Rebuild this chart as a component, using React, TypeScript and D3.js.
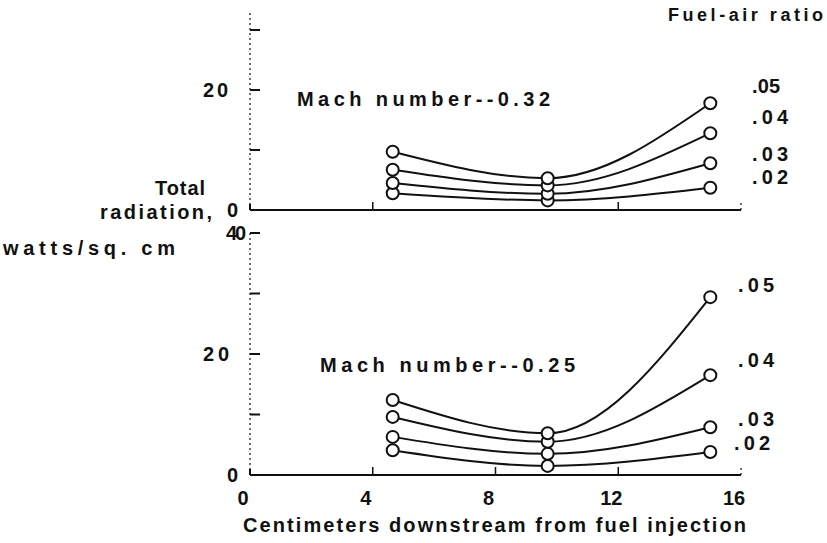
import * as d3 from 'd3';
import * as React from 'react';

// distance from fuel injection, cm
const stations = [4.65, 9.7, 15];
const ratioLabels = ['.02', '.03', '.04', '.05'];

// Mach number 0.32, total radiation (watts/sq. cm)
const m032r02 = [2.8, 1.6, 3.7];
const m032r03 = [4.5, 2.7, 7.8];
const m032r04 = [6.7, 4.1, 12.8];
const m032r05 = [9.7, 5.3, 17.8];

// Mach number 0.25
const m025r02 = [4.1, 1.5, 3.8];
const m025r03 = [6.3, 3.5, 7.9];
const m025r04 = [9.6, 5.5, 16.5];
const m025r05 = [12.4, 6.9, 29.4];

const xTicks = [0, 4, 8, 12, 16];
const topYTicks = [0, 10, 20, 30];
const botYTicks = [0, 10, 20, 30, 40];

const font = '"Liberation Sans", Arial, sans-serif';
const ink = '#111';

const x = d3.scaleLinear().domain([0, 16]).range([250, 741]);
const yTop = d3.scaleLinear().domain([0, 30]).range([210, 30]);
const yBot = d3.scaleLinear().domain([0, 40]).range([475, 233]);

const line = (y: d3.ScaleLinear<number, number>) =>
    d3.line<number>()
        .x((_, i) => x(stations[i]))
        .y(v => y(v))
        .curve(d3.curveMonotoneX);

/**
 * Letter-spaced label, stretched to the width measured on the scan
 */
const Label = (p: { x: number; y: number; w?: number; size?: number; anchor?: string; children: string }) => (
    <text
        x={p.x}
        y={p.y}
        fontFamily={font}
        fontWeight="bold"
        fontSize={p.size || 20}
        fill={ink}
        textAnchor={p.anchor || 'start'}
        textLength={p.w}
        lengthAdjust={p.w ? 'spacing' : undefined}
    >
        {p.children}
    </text>
);

interface PanelProps {
    y: d3.ScaleLinear<number, number>;
    series: number[][];
    yTicks: number[];
    xTickMarks: number[];
    yMax: number;
}

const Panel = ({ y, series, yTicks, xTickMarks, yMax }: PanelProps) => {
    const path = line(y);
    const y0 = y(0);
    return (
        <g>
            {/* y axis, dotted as on the scan */}
            <line x1={x(0)} x2={x(0)} y1={y0} y2={y(yMax)} stroke={ink} strokeWidth={1.2} strokeDasharray="2,3" />
            {yTicks.filter(t => t > 0).map(t => (
                <line key={t} x1={x(0)} x2={x(0) + 10} y1={y(t)} y2={y(t)} stroke={ink} strokeWidth={2} />
            ))}
            {/* x axis */}
            <line x1={x(0)} x2={x(16)} y1={y0} y2={y0} stroke={ink} strokeWidth={2} />
            <line x1={x(0)} x2={x(0)} y1={y0} y2={y0 - 6} stroke={ink} strokeWidth={2} />
            {xTickMarks.map(t => (
                <line key={t} x1={x(t)} x2={x(t)} y1={y0} y2={y0 - 8} stroke={ink} strokeWidth={1.5} />
            ))}
            <line x1={x(16)} x2={x(16)} y1={y0} y2={y0 - 9} stroke={ink} strokeWidth={1.2} strokeDasharray="2,3" />
            {series.map((s, i) => (
                <path key={i} d={path(s) || ''} fill="none" stroke={ink} strokeWidth={2} />
            ))}
            {series.map((s, i) => s.map((v, j) => (
                <circle key={i + '-' + j} cx={x(stations[j])} cy={y(v)} r={6} fill="#fff" stroke={ink} strokeWidth={2} />
            )))}
        </g>
    );
};

export default function App() {
    const topSeries = [m032r02, m032r03, m032r04, m032r05];
    const botSeries = [m025r02, m025r03, m025r04, m025r05];
    const topLabelY = [184, 161, 124, 93];
    const botLabelY = [450, 426, 367, 292];
    return (
        <svg width={827} height={543} style={{ position: 'absolute', left: 0, top: 0, background: '#fff' }}>
            <Panel y={yTop} series={topSeries} yTicks={topYTicks} xTickMarks={[4, 12]} yMax={33} />
            <Panel y={yBot} series={botSeries} yTicks={botYTicks} xTickMarks={[4, 8, 12]} yMax={40} />

            {/* y tick labels */}
            <Label x={203} y={yTop(20) + 7} w={25}>20</Label>
            <Label x={238} y={yTop(0) + 7} anchor="end">0</Label>
            <Label x={226} y={yBot(40) + 7} w={20}>40</Label>
            <Label x={203} y={yBot(20) + 7} w={26}>20</Label>
            <Label x={238} y={yBot(0) + 7} anchor="end">0</Label>

            {/* x tick labels */}
            {xTicks.map(t => (
                <Label key={t} x={x(t) - 7} y={505} anchor="middle">{String(t)}</Label>
            ))}

            {/* fuel-air ratio labels */}
            {ratioLabels.map((r, i) => (
                <Label key={'t' + r} x={752} y={topLabelY[i]} w={i === 3 ? 28 : 36}>{r}</Label>
            ))}
            {ratioLabels.map((r, i) => (
                <Label key={'b' + r} x={i === 0 ? 734 : 738} y={botLabelY[i]} w={36}>{r}</Label>
            ))}

            <Label x={668} y={21} w={155} size={18}>Fuel-air ratio</Label>
            <Label x={297} y={106} w={253}>Mach number--0.32</Label>
            <Label x={320} y={372} w={255}>Mach number--0.25</Label>

            <Label x={155} y={195} w={50}>Total</Label>
            <Label x={100} y={219} w={112}>radiation,</Label>
            <Label x={3} y={255} w={172}>watts/sq. cm</Label>

            <Label x={243} y={532} w={503}>Centimeters downstream from fuel injection</Label>
        </svg>
    );
}
